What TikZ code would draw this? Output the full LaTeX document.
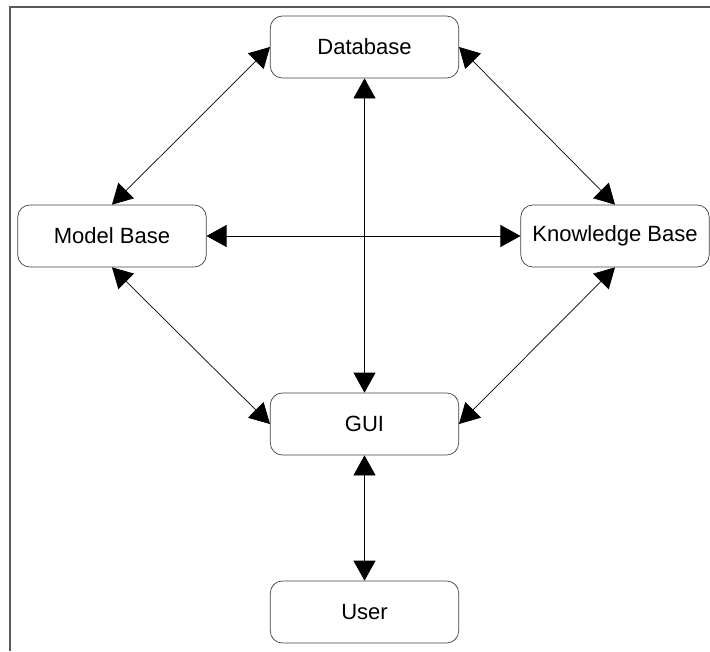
\documentclass[tikz,border=0pt]{standalone}
\usepackage{fontspec}
\setmainfont{Liberation Sans}
\usetikzlibrary{arrows.meta}

\begin{document}
\begin{tikzpicture}[x=0.03cm, y=-0.03cm,
  block/.style={draw=black!75, line width=0.6pt, rounded corners=0.36cm,
    minimum width=5.65cm, minimum height=1.86cm, inner sep=0,
    font=\fontsize{18.8}{22}\selectfont},
  link/.style={{Triangle[length=0.6cm,width=0.66cm]}-{Triangle[length=0.6cm,width=0.66cm]},
    line width=0.6pt}]

\useasboundingbox (0,0) rectangle (710,651);

% frame
\draw[black!65, line width=0.9pt] (10,651) -- (10,7) -- (710,7);

\node[block] (db) at (364.5,47) {Database};
\node[block] (mb) at (112,236) {Model Base};
\node[block] (kb) at (615,236) {Knowledge Base};
\node[block] (gui) at (364.5,424) {GUI};
\node[block] (user) at (364.5,612) {User};

\draw[link] (db.west) -- (mb.north);
\draw[link] (db.east) -- (kb.north);
\draw[link] (db.south) -- (gui.north);
\draw[link] (mb.east) -- (kb.west);
\draw[link] (mb.south) -- (gui.west);
\draw[link] (kb.south) -- (gui.east);
\draw[link] (gui.south) -- (user.north);

\end{tikzpicture}
\end{document}
